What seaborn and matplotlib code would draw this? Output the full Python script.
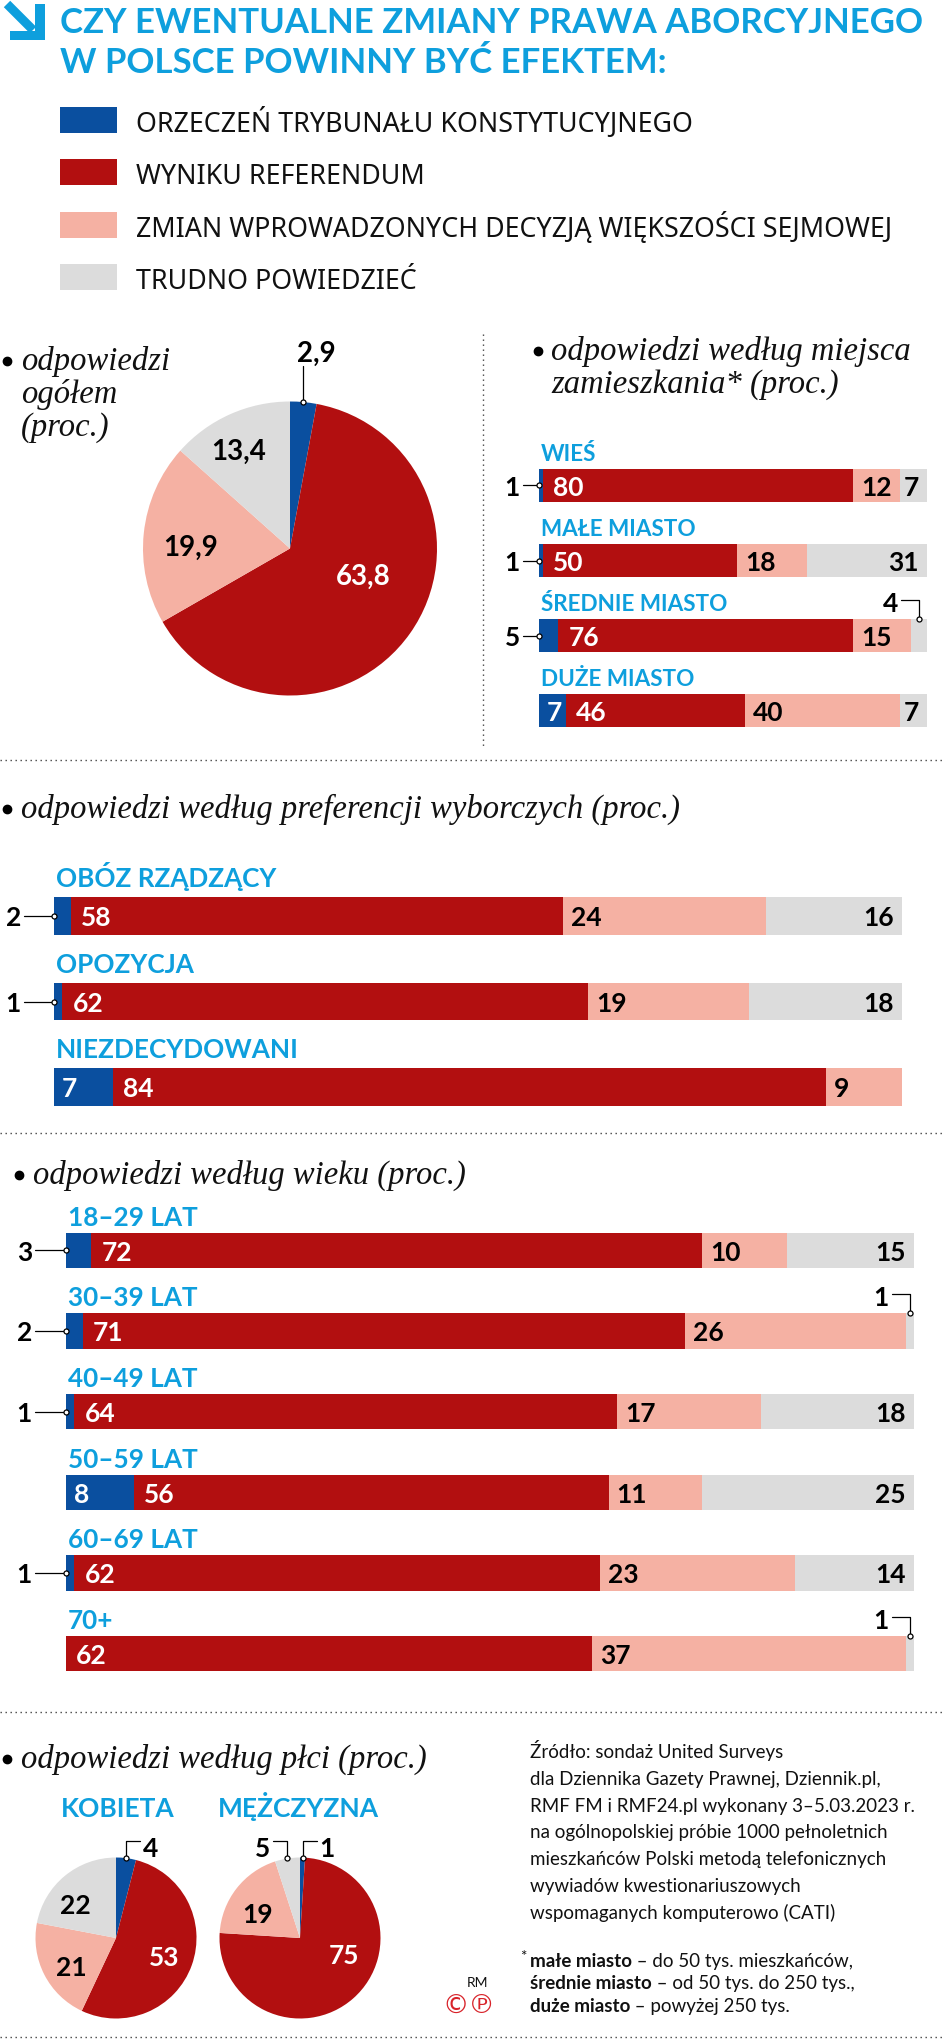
import numpy as np
import pandas as pd
import seaborn as sns
import matplotlib
matplotlib.use('Agg')
import matplotlib.pyplot as plt
from matplotlib.patches import Rectangle, Polygon

sns.set_theme(style='white')
plt.rcParams['font.family'] = ['Lato', 'DejaVu Sans']  # po set_theme, inaczej nadpisze
SERIF = ['Liberation Serif', 'DejaVu Serif']
SZER = ['Noto Sans', 'Lato', 'DejaVu Sans']   # legenda

BLUE, RED, PINK, GREY = '#0a4f9f', '#b20f10', '#f5b1a3', '#dcdcdc'
CYAN = '#0e9fdd'
KOLORY = [BLUE, RED, PINK, GREY]

# --- dane ---
legenda = ['ORZECZEŃ TRYBUNAŁU KONSTYTUCYJNEGO', 'WYNIKU REFERENDUM',
           'ZMIAN WPROWADZONYCH DECYZJĄ WIĘKSZOŚCI SEJMOWEJ', 'TRUDNO POWIEDZIEĆ']

ogolem = [2.9, 63.8, 19.9, 13.4]
ogolem_txt = ['2,9', '63,8', '19,9', '13,4']

miejsce = ['WIEŚ', 'MAŁE MIASTO', 'ŚREDNIE MIASTO', 'DUŻE MIASTO']
miejsce_tk = [1, 1, 5, 7]
miejsce_ref = [80, 50, 76, 46]
miejsce_sejm = [12, 18, 15, 40]
miejsce_trud = [7, 31, 4, 7]

pref = ['OBÓZ RZĄDZĄCY', 'OPOZYCJA', 'NIEZDECYDOWANI']
pref_tk = [2, 1, 7]
pref_ref = [58, 62, 84]
pref_sejm = [24, 19, 9]
pref_trud = [16, 18, 0]

wiek = ['18–29 LAT', '30–39 LAT', '40–49 LAT', '50–59 LAT', '60–69 LAT', '70+']
wiek_tk = [3, 2, 1, 8, 1, 0]
wiek_ref = [72, 71, 64, 56, 62, 62]
wiek_sejm = [10, 26, 17, 11, 23, 37]
wiek_trud = [15, 1, 18, 25, 14, 1]

plec = ['KOBIETA', 'MĘŻCZYZNA']
kobieta = [4, 53, 21, 22]
mezczyzna = [1, 75, 19, 5]

zrodlo = ['Źródło: sondaż United Surveys',
          'dla Dziennika Gazety Prawnej, Dziennik.pl,',
          'RMF FM i RMF24.pl wykonany 3–5.03.2023 r.',
          'na ogólnopolskiej próbie 1000 pełnoletnich',
          'mieszkańców Polski metodą telefonicznych',
          'wywiadów kwestionariuszowych',
          'wspomaganych komputerowo (CATI)']
przypis = [('małe miasto', ' – do 50 tys. mieszkańców,'),
           ('średnie miasto', ' – od 50 tys. do 250 tys.,'),
           ('duże miasto', ' – powyżej 250 tys.')]

# --- figura, warstwa opisów w pikselach (nad wykresami) ---
W, H = 945, 2040
fig = plt.figure(figsize=(W / 100, H / 100), dpi=100)
tlo = fig.add_axes([0, 0, 1, 1])
tlo.set_xlim(0, W)
tlo.set_ylim(H, 0)
tlo.axis('off')
tlo.patch.set_alpha(0)
tlo.set_zorder(10)
rend = fig.canvas.get_renderer()


def osie(x, y, w, h):
    ax = fig.add_axes([x / W, 1 - (y + h) / H, w / W, h / H])
    ax.patch.set_alpha(0)
    return ax


def na_px(ax, x, y):
    return tlo.transData.inverted().transform(ax.transData.transform((x, y)))


def kropki(x, y):
    tlo.plot(x, y, color='#444444', lw=1.0, linestyle=(0, (1, 2.6)))


def tytul_sekcji(x, yb, linie, kropka=True):
    if kropka:
        tlo.plot(x - 14, yb - 8, 'o', color='black', ms=6)
    for j, t in enumerate(linie):
        tlo.text(x, yb + j * 33, t, family=SERIF, style='italic', fontsize=23.5,
                 va='baseline', color='#111111')


def punkt(x, y):
    tlo.plot(x, y, 'o', ms=3.6, mfc='white', mec='black', mew=0.9, zorder=5)


def wart(x, yb, t, ha='left', kol='black', fs=19):
    tlo.text(x, yb, t, ha=ha, va='baseline', fontsize=fs, fontweight='bold', color=kol)


# --- tytuł i legenda ---
tlo.add_patch(Polygon([(10, 32), (35, 32), (35, 5), (45, 5), (45, 41), (10, 41)],
                      closed=True, color=CYAN, lw=0))
tlo.plot([7, 33], [5, 31], color=CYAN, lw=6.5, solid_capstyle='butt')
tlo.text(60, 33, 'CZY EWENTUALNE ZMIANY PRAWA ABORCYJNEGO', color=CYAN,
         fontsize=25, fontweight='bold', va='baseline')
tlo.text(60, 73, 'W POLSCE POWINNY BYĆ EFEKTEM:', color=CYAN,
         fontsize=25, fontweight='bold', va='baseline')
for i, (lab, kol) in enumerate(zip(legenda, KOLORY)):
    top = 108 + i * 52.3
    tlo.add_patch(Rectangle((60, top), 57, 26, color=kol, lw=0))
    tlo.text(136, top + 24, lab, family=SZER, fontsize=19.3, va='baseline', color='#111111')

# --- koło: ogółem ---
tytul_sekcji(21, 370, ['odpowiedzi', 'ogółem', '(proc.)'])
ax_p = osie(290 - 147, 549.5 - 147, 294, 294)
klin, _ = ax_p.pie(ogolem, colors=KOLORY, startangle=90, counterclock=False,
                   wedgeprops=dict(linewidth=0))
ax_p.set_xlim(-1, 1)
ax_p.set_ylim(-1, 1)
ax_p.set_aspect('equal')


def kat(w, d=0):
    return np.deg2rad((w.theta1 + w.theta2) / 2 + d)


def etykiety_kola(ax, klin, teksty, ustaw, fs):
    for w, t, u in zip(klin, teksty, ustaw):
        if u is None:
            continue
        d, r, kol = u
        a = kat(w, d)
        x, y = na_px(ax, r * np.cos(a), r * np.sin(a))
        tlo.text(x, y + 0.36 * fs / 0.72, t, ha='center', va='baseline',
                 fontsize=fs, fontweight='bold', color=kol)


etykiety_kola(ax_p, klin, ogolem_txt,
              [None, (16, 0.53, 'white'), (4, 0.68, 'black'), (3, 0.76, 'black')], 20)
a = kat(klin[0])
xr, yr = na_px(ax_p, np.cos(a), np.sin(a))
tlo.plot([xr, xr], [yr, yr - 36], color='black', lw=0.9)
punkt(xr, yr)
wart(xr - 6, yr - 41, ogolem_txt[0], fs=20)

# pionowa linia kropkowana
kropki([483, 483], [335, 748])


# --- paski ---
def paski(ax, kategorie, serie, szer):
    skum = np.cumsum(np.array(serie, dtype=float), axis=0)
    for k in range(len(serie) - 1, -1, -1):
        sns.barplot(x=skum[k], y=kategorie, orient='h', color=KOLORY[k], saturation=1,
                    width=szer, linewidth=0, errorbar=None, ax=ax)
    ax.set_xlim(0, 100)
    ax.set_ylim(len(kategorie) - 0.5, -0.5)
    ax.axis('off')


def opisz(ax, kategorie, serie, szer, fs_kat, kat_dy, lewy):
    for i, kt in enumerate(kategorie):
        x0, yc = na_px(ax, 0, i)
        _, ytop = na_px(ax, 0, i - szer / 2)
        tlo.text(x0 + 2, ytop - kat_dy, kt, color=CYAN, fontsize=fs_kat,
                 fontweight='bold', va='baseline')
        yb = yc + 9.5
        start = 0
        for k, s in enumerate(serie):
            v = s[i]
            if v == 0:
                continue
            xs, _ = na_px(ax, start, i)
            xe, _ = na_px(ax, start + v, i)
            if k == 0 and v <= 5:
                tlo.plot([x0 - lewy + 3, x0], [yc, yc], color='black', lw=0.9)
                punkt(x0, yc)
                wart(x0 - lewy, yb, str(v), ha='right')
            elif k == 3 and v <= 4:
                xm = (xs + xe) / 2
                tlo.plot([xm - 18, xm, xm], [ytop - 19, ytop - 19, ytop], color='black', lw=0.9)
                punkt(xm, ytop)
                wart(xm - 21, ytop - 8, str(v), ha='right')
            elif k == 3:
                wart(xe - 8, yb, str(v), ha='right')
            else:
                pad = {0: 8, 1: 10, 2: 8}[k]
                wart(xs + pad, yb, str(v), kol='white' if k < 2 else 'black')
            start += v


tytul_sekcji(551, 360, ['odpowiedzi według miejsca', 'zamieszkania* (proc.)'], kropka=False)
tlo.plot(538, 352, 'o', color='black', ms=6)
s_miejsce = [miejsce_tk, miejsce_ref, miejsce_sejm, miejsce_trud]
ax_m = osie(539, 449, 388, 300)
paski(ax_m, miejsce, s_miejsce, 0.44)
opisz(ax_m, miejsce, s_miejsce, 0.44, 16.2, 9, 19)

kropki([0, W], [761, 761])

tytul_sekcji(21, 818, ['odpowiedzi według preferencji wyborczych (proc.)'])
s_pref = [pref_tk, pref_ref, pref_sejm, pref_trud]
ax_pr = osie(54, 874.25, 848, 256.5)
paski(ax_pr, pref, s_pref, 0.444)
opisz(ax_pr, pref, s_pref, 0.444, 18.8, 11, 33)

kropki([0, W], [1134, 1134])

tytul_sekcji(33, 1184, ['odpowiedzi według wieku (proc.)'])
s_wiek = [wiek_tk, wiek_ref, wiek_sejm, wiek_trud]
ax_w = osie(66, 1211, 848, 484)
paski(ax_w, wiek, s_wiek, 0.44)
opisz(ax_w, wiek, s_wiek, 0.44, 18.8, 8, 34)

kropki([0, W], [1713, 1713])

# --- płeć ---
tytul_sekcji(21, 1768, ['odpowiedzi według płci (proc.)'])
for nazwa, cx, xn, dane, ustaw in [
        ('KOBIETA', 116, 118, kobieta, [None, (0, 0.63, 'white'), (5, 0.65, 'black'), (10, 0.67, 'black')]),
        ('MĘŻCZYZNA', 300, 298, mezczyzna, [None, (29, 0.58, 'white'), (7, 0.62, 'black'), None])]:
    tlo.text(xn, 1817, nazwa, color=CYAN, fontsize=19, fontweight='bold',
             ha='center', va='baseline')
    ax_k = osie(cx - 80.5, 1939 - 80.5, 161, 161)
    kl, _ = ax_k.pie(dane, colors=KOLORY, startangle=90, counterclock=False,
                     wedgeprops=dict(linewidth=0))
    ax_k.set_xlim(-1, 1)
    ax_k.set_ylim(-1, 1)
    ax_k.set_aspect('equal')
    etykiety_kola(ax_k, kl, [str(v) for v in dane], ustaw, 19)
    # odnośniki nad kołem
    for idx, strona in ([(0, 1)] if nazwa == 'KOBIETA' else [(0, 1), (3, -1)]):
        a = kat(kl[idx])
        xr, yr = na_px(ax_k, np.cos(a), np.sin(a))
        xh = xr + strona * 14
        tlo.plot([xr, xr, xh], [yr, yr - 17, yr - 17], color='black', lw=0.9)
        punkt(xr, yr)
        wart(xh + strona * 3, yr - 2, str(dane[idx]), ha='left' if strona > 0 else 'right', fs=19)

for j, t in enumerate(zrodlo):
    tlo.text(530, 1758 + j * 26.8, t, fontsize=13.5, va='baseline', color='#111111')
tlo.text(520, 1961, '*', fontsize=11, va='baseline', color='#111111')
for j, (b, r) in enumerate(przypis):
    yb = 1967 + j * 22.5
    tb = tlo.text(530, yb, b, fontsize=13.5, fontweight='bold', va='baseline', color='#111111')
    wb = tb.get_window_extent(rend).width
    tlo.text(530 + wb, yb, r, fontsize=13.5, va='baseline', color='#111111')
tlo.text(477, 1987, 'RM', fontsize=10, ha='center', va='baseline', color='#111111')
tlo.text(469, 2013, '©℗', fontsize=19, ha='center', va='baseline', color='#d8232a',
         family=['DejaVu Sans'])

kropki([0, W], [2038, 2038])

fig.savefig('out.png', dpi=100, facecolor='white')
